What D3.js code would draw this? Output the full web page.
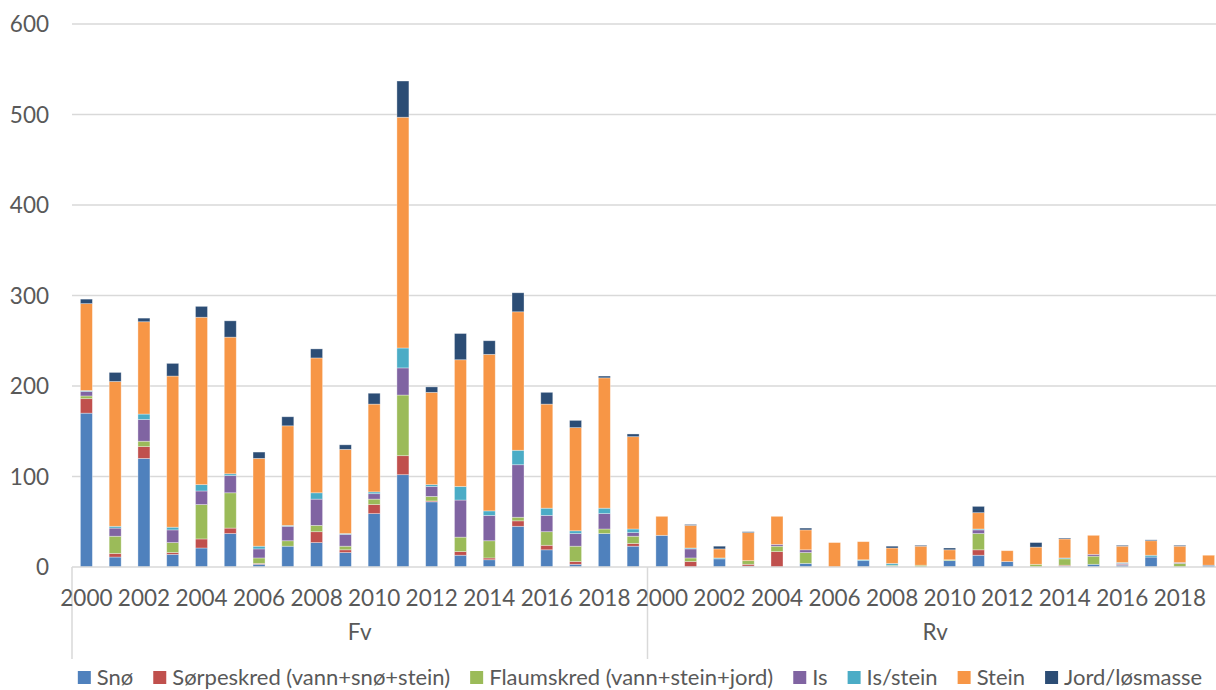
<!DOCTYPE html>
<html>
<head>
<meta charset="utf-8">
<script src="https://cdn.jsdelivr.net/npm/d3@7"></script>
<style>
  html, body { margin: 0; padding: 0; background: #fff; }
  svg { display: block; }
  text { font-family: Lato, "Open Sans", sans-serif; fill: #595959; }
</style>
</head>
<body>
<svg id="chart" width="1216" height="690"></svg>
<script>
// Road groups and years (each group shows 2000–2019)
const groups = ["Fv", "Rv"];
const years = d3.range(2000, 2020);
const yTicks = [0, 100, 200, 300, 400, 500, 600];

// Series names in stacking order
const seriesNames = ["Snø", "Sørpeskred (vann+snø+stein)", "Flaumskred (vann+stein+jord)", "Is", "Is/stein", "Stein", "Jord/løsmasse"];
const seriesColors = ["#4F81BD", "#C0504D", "#9BBB59", "#8064A2", "#4BACC6", "#F79646", "#2C4D75"];

// Values per series: 20 Fv years followed by 20 Rv years
const sno        = [170, 11, 120, 14, 21, 37, 3, 23, 27, 16, 59, 102, 72, 13, 8, 45, 19, 3, 37, 23,
                    35, 0, 9, 1, 0, 4, 0, 7, 1, 0, 7, 13, 6, 0, 1, 3, 2, 11, 0, 2];
const sorpeskred = [16, 4, 13, 2, 10, 6, 1, 0, 12, 3, 10, 21, 1, 4, 2, 6, 5, 3, 0, 3,
                    0, 6, 0, 2, 17, 0, 0, 0, 0, 0, 0, 6, 0, 0, 1, 0, 1, 0, 0, 0];
const flaumskred = [3, 19, 6, 11, 38, 39, 6, 6, 7, 4, 6, 67, 5, 16, 19, 4, 15, 17, 5, 8,
                    0, 4, 0, 4, 6, 12, 0, 0, 1, 2, 1, 18, 0, 3, 7, 9, 0, 0, 4, 0];
const is         = [5, 9, 24, 14, 15, 19, 10, 16, 29, 13, 6, 30, 11, 41, 28, 58, 18, 14, 17, 4,
                    0, 10, 0, 0, 2, 3, 0, 0, 0, 0, 0, 4, 0, 0, 0, 2, 1, 0, 1, 0];
const isStein    = [1, 2, 6, 3, 7, 2, 3, 1, 7, 1, 2, 22, 2, 15, 5, 16, 8, 3, 6, 4,
                    0, 1, 1, 0, 0, 0, 0, 1, 2, 0, 0, 1, 0, 0, 1, 0, 1, 2, 0, 0];
const stein      = [96, 160, 102, 167, 185, 151, 97, 110, 149, 93, 97, 255, 102, 140, 173, 153, 115, 114, 144, 102,
                    21, 25, 10, 31, 31, 22, 27, 20, 17, 21, 11, 18, 12, 19, 21, 21, 18, 16, 18, 11];
const jord       = [5, 10, 4, 14, 12, 18, 7, 10, 10, 5, 12, 40, 6, 29, 15, 21, 13, 8, 2, 3,
                    0, 1, 3, 1, 0, 2, 0, 0, 2, 1, 2, 7, 0, 5, 1, 0, 1, 1, 1, 0];

const seriesValues = [sno, sorpeskred, flaumskred, is, isStein, stein, jord];

// Table for d3.stack: one row per group/year
const rows = [];
groups.forEach((g, gi) => {
  years.forEach((yr, yi) => {
    const i = gi * years.length + yi;
    const row = { key: g + "-" + yr, group: g, year: yr };
    seriesNames.forEach((name, si) => { row[name] = seriesValues[si][i]; });
    rows.push(row);
  });
});

const svg = d3.select("#chart");
const plotLeft = 72, plotRight = 1223, plotTop = 24, plotBottom = 567;
const fontSize = "22.5px";

const x = d3.scaleBand()
  .domain(rows.map(d => d.key))
  .range([plotLeft, plotRight])
  .paddingInner(0.583)
  .paddingOuter(0.2915);

const y = d3.scaleLinear().domain([0, 600]).range([plotBottom, plotTop]);

// Horizontal gridlines
svg.append("g").selectAll("line")
  .data(yTicks.filter(t => t > 0))
  .join("line")
  .attr("x1", plotLeft).attr("x2", plotRight)
  .attr("y1", d => y(d)).attr("y2", d => y(d))
  .attr("stroke", "#d9d9d9").attr("stroke-width", 1.5);

// Y tick labels
svg.append("g").selectAll("text")
  .data(yTicks)
  .join("text")
  .attr("x", 49)
  .attr("y", d => y(d))
  .attr("dy", "0.36em")
  .attr("text-anchor", "end")
  .style("font-size", fontSize)
  .text(d => d);

// Stacked bars
const stacked = d3.stack().keys(seriesNames)(rows);
svg.append("g").selectAll("g")
  .data(stacked)
  .join("g")
  .attr("fill", (d, i) => seriesColors[i])
  .selectAll("rect")
  .data(d => d)
  .join("rect")
  .attr("x", d => x(d.data.key))
  .attr("width", x.bandwidth())
  .attr("y", d => y(d[1]))
  .attr("height", d => Math.max(0, y(d[0]) - y(d[1])))
  .attr("stroke", "rgba(255,255,255,0.45)")
  .attr("stroke-width", 0.75);

// Category axis: baseline and group dividers
const axisG = svg.append("g").attr("stroke", "#d9d9d9").attr("stroke-width", 1.5);
axisG.append("line").attr("x1", plotLeft).attr("x2", plotRight).attr("y1", plotBottom).attr("y2", plotBottom);
const dividerX = [plotLeft, (x("Fv-2019") + x.bandwidth() + x("Rv-2000")) / 2, plotRight];
axisG.selectAll("line.div")
  .data(dividerX)
  .join("line")
  .attr("class", "div")
  .attr("x1", d => d).attr("x2", d => d)
  .attr("y1", plotBottom).attr("y2", 659);

// Year labels (every second year)
svg.append("g").selectAll("text")
  .data(rows.filter(d => d.year % 2 === 0))
  .join("text")
  .attr("x", d => x(d.key) + x.bandwidth() / 2)
  .attr("y", 606)
  .attr("text-anchor", "middle")
  .style("font-size", fontSize)
  .text(d => d.year);

// Group labels
svg.append("g").selectAll("text")
  .data(groups)
  .join("text")
  .attr("x", (g, i) => (dividerX[i] + dividerX[i + 1]) / 2)
  .attr("y", 640)
  .attr("text-anchor", "middle")
  .style("font-size", fontSize)
  .text(d => d);

// Legend
const legend = svg.append("g");
const items = legend.selectAll("g")
  .data(seriesNames)
  .join("g");
items.append("rect")
  .attr("width", 13).attr("height", 13)
  .attr("y", 671)
  .attr("fill", (d, i) => seriesColors[i]);
items.append("text")
  .attr("x", 19)
  .attr("y", 685)
  .style("font-size", "22px")
  .text(d => d);
const widths = [];
items.each(function () {
  widths.push(19 + this.querySelector("text").getComputedTextLength());
});
const gap = 20;
const total = d3.sum(widths) + gap * (widths.length - 1);
let cursor = 640 - total / 2;
items.attr("transform", (d, i) => {
  const t = `translate(${cursor},0)`;
  cursor += widths[i] + gap;
  return t;
});
</script>
</body>
</html>
